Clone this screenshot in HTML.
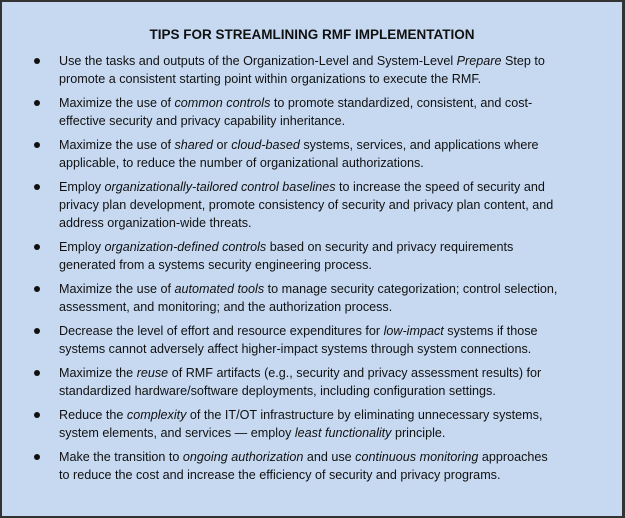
<!DOCTYPE html>
<html><head><meta charset="utf-8">
<style>
html,body{margin:0;padding:0;}
body{width:625px;height:518px;overflow:hidden;background:#fff;}
#box{position:absolute;left:0;top:0;width:620px;height:514px;background:#c6d9f1;border:2px solid #333;border-right-width:3px;border-bottom-width:2px;box-sizing:content-box;font-family:"Liberation Sans",sans-serif;color:#111;}
#title{position:absolute;left:0;width:620px;top:24px;text-align:center;font-weight:bold;font-size:13.5px;line-height:18px;}
ul{list-style:none;margin:0;padding:0;position:absolute;left:0;top:50px;}
li{position:relative;font-size:12.6px;line-height:18px;white-space:nowrap;padding-left:57px;margin-bottom:6px;}
li::before{content:"";position:absolute;left:32px;top:6px;width:6px;height:6px;border-radius:50%;background:#111;}
</style></head><body>
<div id="box">
<div id="title">TIPS FOR STREAMLINING RMF IMPLEMENTATION</div>
<ul>
<li>Use the tasks and outputs of the Organization-Level and System-Level <i>Prepare</i> Step to<br>promote a consistent starting point within organizations to execute the RMF.</li>
<li>Maximize the use of <i>common controls</i> to promote standardized, consistent, and cost-<br>effective security and privacy capability inheritance.</li>
<li>Maximize the use of <i>shared</i> or <i>cloud-based</i> systems, services, and applications where<br>applicable, to reduce the number of organizational authorizations.</li>
<li>Employ <i>organizationally-tailored control baselines</i> to increase the speed of security and<br>privacy plan development, promote consistency of security and privacy plan content, and<br>address organization-wide threats.</li>
<li>Employ <i>organization-defined controls</i> based on security and privacy requirements<br>generated from a systems security engineering process.</li>
<li>Maximize the use of <i>automated tools</i> to manage security categorization; control selection,<br>assessment, and monitoring; and the authorization process.</li>
<li>Decrease the level of effort and resource expenditures for <i>low-impact</i> systems if those<br>systems cannot adversely affect higher-impact systems through system connections.</li>
<li>Maximize the <i>reuse</i> of RMF artifacts (e.g., security and privacy assessment results) for<br>standardized hardware/software deployments, including configuration settings.</li>
<li>Reduce the <i>complexity</i> of the IT/OT infrastructure by eliminating unnecessary systems,<br>system elements, and services — employ <i>least functionality</i> principle.</li>
<li>Make the transition to <i>ongoing authorization</i> and use <i>continuous monitoring</i> approaches<br>to reduce the cost and increase the efficiency of security and privacy programs.</li>
</ul>
</div>
</body></html>
